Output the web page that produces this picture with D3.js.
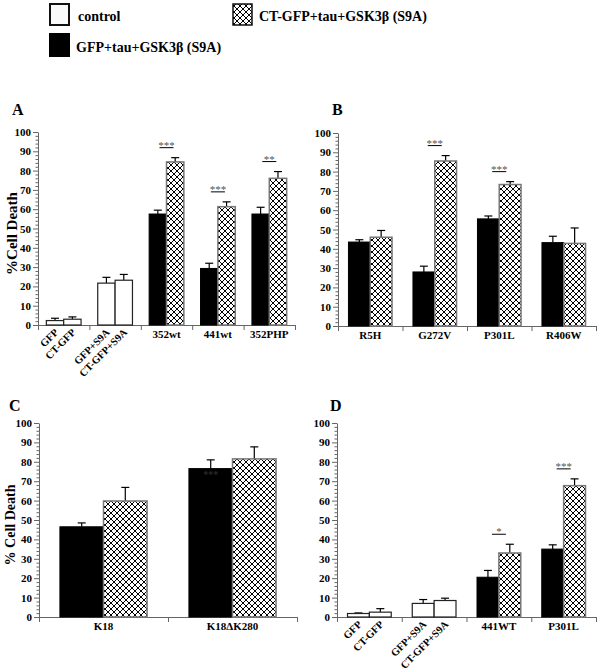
<!DOCTYPE html>
<html lang="en">
<head>
<meta charset="utf-8">
<title>Cell death</title>
<script src="https://cdn.jsdelivr.net/npm/d3@7"></script>
<style>
  body { margin: 0; background: #fff; }
  text { font-family: "Liberation Serif", "Times New Roman", serif; font-weight: bold; }
</style>
</head>
<body>
<script>

// ---- data ----
// each group is a pair: first bar (control white or GFP black), second bar (control white or CT-GFP hatched)

// panel A
var aGroups   = ["ctrl", "ctrlS9A", "352wt", "441wt", "352PHP"];
var aKinds    = ["control", "control", "test", "test", "test"];
var aLabels   = ["", "", "352wt", "441wt", "352PHP"];
var aSubLabels = [["GFP", "CT-GFP"], ["GFP+S9A", "CT-GFP+S9A"], null, null, null];
var aFirst    = [2.3, 21.7, 57.5, 29.3, 57.5];
var aFirstErr = [1.2, 3.0, 2.0, 2.7, 3.5];
var aSecond   = [3.0, 23.2, 84.5, 61.3, 76.0];
var aSecondErr = [1.2, 3.0, 2.2, 2.5, 3.5];
var aSig      = ["", "", "***", "***", "**"];

// panel B
var bGroups   = ["R5H", "G272V", "P301L", "R406W"];
var bKinds    = ["test", "test", "test", "test"];
var bLabels   = ["R5H", "G272V", "P301L", "R406W"];
var bFirst    = [43.5, 28.0, 55.5, 43.2];
var bFirstErr = [1.2, 3.0, 1.5, 3.3];
var bSecond   = [46.0, 85.5, 73.3, 42.8];
var bSecondErr = [3.5, 2.8, 1.5, 8.0];
var bSig      = ["", "***", "***", ""];

// panel C
var cGroups   = ["K18", "K18dK280"];
var cKinds    = ["test", "test"];
var cLabels   = ["K18", "K18\u0394K280"];
var cFirst    = [46.5, 76.5];
var cFirstErr = [2.0, 4.5];
var cSecond   = [59.8, 81.5];
var cSecondErr = [7.0, 6.2];
var cSig      = ["", ""];

// panel D
var dGroups   = ["ctrl", "ctrlS9A", "441WT", "P301L"];
var dKinds    = ["control", "control", "test", "test"];
var dLabels   = ["", "", "441WT", "P301L"];
var dSubLabels = [["GFP", "CT-GFP"], ["GFP+S9A", "CT-GFP+S9A"], null, null];
var dFirst    = [1.8, 7.0, 20.5, 35.0];
var dFirstErr = [0.3, 2.0, 3.5, 2.2];
var dSecond   = [2.5, 8.5, 33.0, 67.7];
var dSecondErr = [1.8, 1.2, 4.5, 3.5];
var dSig      = ["", "", "*", "***"];

var yTicks = [0, 10, 20, 30, 40, 50, 60, 70, 80, 90, 100];

var width = 600, height = 672;
var svg = d3.select("body").append("svg")
    .attr("width", width)
    .attr("height", height);

// crosshatch fill
var defs = svg.append("defs");
var pat = defs.append("pattern")
    .attr("id", "hatch")
    .attr("patternUnits", "userSpaceOnUse")
    .attr("width", 6)
    .attr("height", 6);
pat.append("rect").attr("width", 6).attr("height", 6).attr("fill", "white");
pat.append("path")
    .attr("d", "M0,0L6,6M6,0L0,6")
    .attr("stroke", "black")
    .attr("stroke-width", 1);

var axisColour = "#666";

// ---- legend ----
var legend = svg.append("g");
legend.append("rect").attr("x", 50).attr("y", 4).attr("width", 19).attr("height", 21)
    .attr("fill", "#fafafa").attr("stroke", "#111").attr("stroke-width", 2);
legend.append("text").attr("x", 78).attr("y", 21).style("font-size", "14px").text("control");

legend.append("rect").attr("x", 49).attr("y", 33).attr("width", 21).attr("height", 24)
    .attr("fill", "black");
legend.append("text").attr("x", 76).attr("y", 52).style("font-size", "14px").text("GFP+tau+GSK3\u03b2 (S9A)");

legend.append("rect").attr("x", 233).attr("y", 4).attr("width", 19).attr("height", 21)
    .attr("fill", "url(#hatch)").attr("stroke", "#111").attr("stroke-width", 1.5);
legend.append("text").attr("x", 259).attr("y", 21).style("font-size", "14px").text("CT-GFP+tau+GSK3\u03b2 (S9A)");

// ---- panels ----
drawPanel({ letter: "A", letterX: 12, letterY: 115, left: 38, right: 295, yTop: 132, yBottom: 325,
    title: "%Cell Death", titleX: 17, titleSize: 15,
    groups: aGroups, kinds: aKinds, labels: aLabels, subLabels: aSubLabels,
    first: aFirst, firstErr: aFirstErr, second: aSecond, secondErr: aSecondErr, sig: aSig });

drawPanel({ letter: "B", letterX: 332, letterY: 115, left: 338, right: 596, yTop: 133, yBottom: 326,
    groups: bGroups, kinds: bKinds, labels: bLabels, subLabels: null,
    first: bFirst, firstErr: bFirstErr, second: bSecond, secondErr: bSecondErr, sig: bSig });

drawPanel({ letter: "C", letterX: 9, letterY: 411, left: 39, right: 297, yTop: 423, yBottom: 617,
    title: "% Cell Death", titleX: 15, titleSize: 14,
    groups: cGroups, kinds: cKinds, labels: cLabels, subLabels: null,
    first: cFirst, firstErr: cFirstErr, second: cSecond, secondErr: cSecondErr, sig: cSig });

drawPanel({ letter: "D", letterX: 330, letterY: 411, left: 337, right: 596, yTop: 423, yBottom: 617,
    groups: dGroups, kinds: dKinds, labels: dLabels, subLabels: dSubLabels,
    first: dFirst, firstErr: dFirstErr, second: dSecond, secondErr: dSecondErr, sig: dSig });

// faint stars hidden in the black K18dK280 bar (as in the original)
(function(){
    var y = d3.scaleLinear().domain([0, 100]).range([617, 423]);
    var xg = d3.scaleBand().domain(cGroups).range([39, 297]);
    var xb = d3.scaleBand().domain([0, 1]).range([0, xg.bandwidth()]).paddingOuter(0.48);
    svg.append("text")
        .attr("x", xg("K18dK280") + xb(0) + xb.bandwidth() / 2)
        .attr("y", y(cFirst[1]) + 9)
        .attr("text-anchor", "middle")
        .attr("fill", "#2a2a2a")
        .style("font-size", "10px")
        .text("***");
})();

function drawPanel(p){
    var g = svg.append("g");
    var n = p.groups.length;

    var y = d3.scaleLinear().domain([0, 100]).range([p.yBottom, p.yTop]);
    var xg = d3.scaleBand().domain(p.groups).range([p.left, p.right]);
    var xb = d3.scaleBand().domain([0, 1]).range([0, xg.bandwidth()]).paddingOuter(0.48);

    // panel letter
    g.append("text")
        .attr("x", p.letterX)
        .attr("y", p.letterY)
        .style("font-size", "16px")
        .text(p.letter);

    // y axis with minor ticks
    var ya = g.append("g")
        .attr("transform", "translate(" + p.left + ",0)")
        .call(d3.axisLeft(y).tickValues(yTicks).tickSize(5).tickSizeOuter(0).tickPadding(2));
    ya.selectAll("text").attr("fill", "black").style("font-size", "11px")
        .style("font-family", "Liberation Serif").style("font-weight", "bold");
    ya.selectAll("line,path").attr("stroke", axisColour);

    var minor = d3.range(0, 101, 2).filter(function(v){ return v % 10 != 0; });
    var ym = g.append("g")
        .attr("transform", "translate(" + p.left + ",0)")
        .call(d3.axisLeft(y).tickValues(minor).tickSize(2.5).tickSizeOuter(0).tickFormat(""));
    ym.selectAll("line").attr("stroke", axisColour);
    ym.select("path").remove();

    // x axis, ticks at the group boundaries
    var xl = d3.scaleLinear().domain([0, n]).range([p.left, p.right]);
    var xa = g.append("g")
        .attr("transform", "translate(0," + p.yBottom + ")")
        .call(d3.axisBottom(xl).tickValues(d3.range(n + 1)).tickSize(5).tickSizeOuter(0).tickFormat(""));
    xa.selectAll("line,path").attr("stroke", axisColour);

    if(p.title){
        g.append("text")
            .attr("transform", "translate(" + p.titleX + "," + ((p.yTop + p.yBottom) / 2 + 5) + ") rotate(-90)")
            .attr("text-anchor", "middle")
            .style("font-size", p.titleSize + "px")
            .text(p.title);
    }

    p.groups.forEach(function(grp, i){
        var x0 = xg(grp);
        var vals = [p.first[i], p.second[i]];
        var errs = [p.firstErr[i], p.secondErr[i]];

        vals.forEach(function(v, j){
            var bx = x0 + xb(j);
            var bw = xb.bandwidth();
            var fill, stroke, sw;
            if(p.kinds[i] == "control"){
                fill = "white"; stroke = "#222"; sw = 1.2;
            } else if(j == 0){
                fill = "black"; stroke = "black"; sw = 1;
            } else {
                fill = "url(#hatch)"; stroke = "#777"; sw = 1.5;
            }

            // error bar (upper only)
            var top = y(v + errs[j]);
            var cx = bx + bw / 2;
            g.append("line")
                .attr("x1", cx).attr("x2", cx)
                .attr("y1", y(v)).attr("y2", top)
                .attr("stroke", "black").attr("stroke-width", 1.2);
            g.append("line")
                .attr("x1", cx - 4).attr("x2", cx + 4)
                .attr("y1", top).attr("y2", top)
                .attr("stroke", "black").attr("stroke-width", 1.2);

            g.append("rect")
                .attr("x", bx)
                .attr("y", y(v))
                .attr("width", bw)
                .attr("height", y(0) - y(v))
                .attr("fill", fill)
                .attr("stroke", stroke)
                .attr("stroke-width", sw);

            if(p.subLabels && p.subLabels[i]){
                g.append("text")
                    .attr("transform", "translate(" + (cx + 4) + "," + (p.yBottom + 8) + ") rotate(-45)")
                    .attr("text-anchor", "end")
                    .style("font-size", "10.5px")
                    .text(p.subLabels[i][j]);
            }
        });

        // group label
        if(p.labels[i]){
            g.append("text")
                .attr("x", x0 + xg.bandwidth() / 2)
                .attr("y", p.yBottom + 13)
                .attr("text-anchor", "middle")
                .style("font-size", "11px")
                .text(p.labels[i]);
        }

        // significance bar
        if(p.sig[i]){
            var mid = x0 + xb(1);
            var ly = y(p.second[i] + p.secondErr[i]) - 10;
            g.append("line")
                .attr("x1", mid - 7).attr("x2", mid + 7)
                .attr("y1", ly).attr("y2", ly)
                .attr("stroke", "black").attr("stroke-width", 1);
            g.append("text")
                .attr("x", mid)
                .attr("y", ly + 1)
                .attr("text-anchor", "middle")
                .attr("fill", "#555")
                .style("font-size", "11px")
                .style("font-weight", "normal")
                .text(p.sig[i]);
        }
    });
}
</script>
</body>
</html>
